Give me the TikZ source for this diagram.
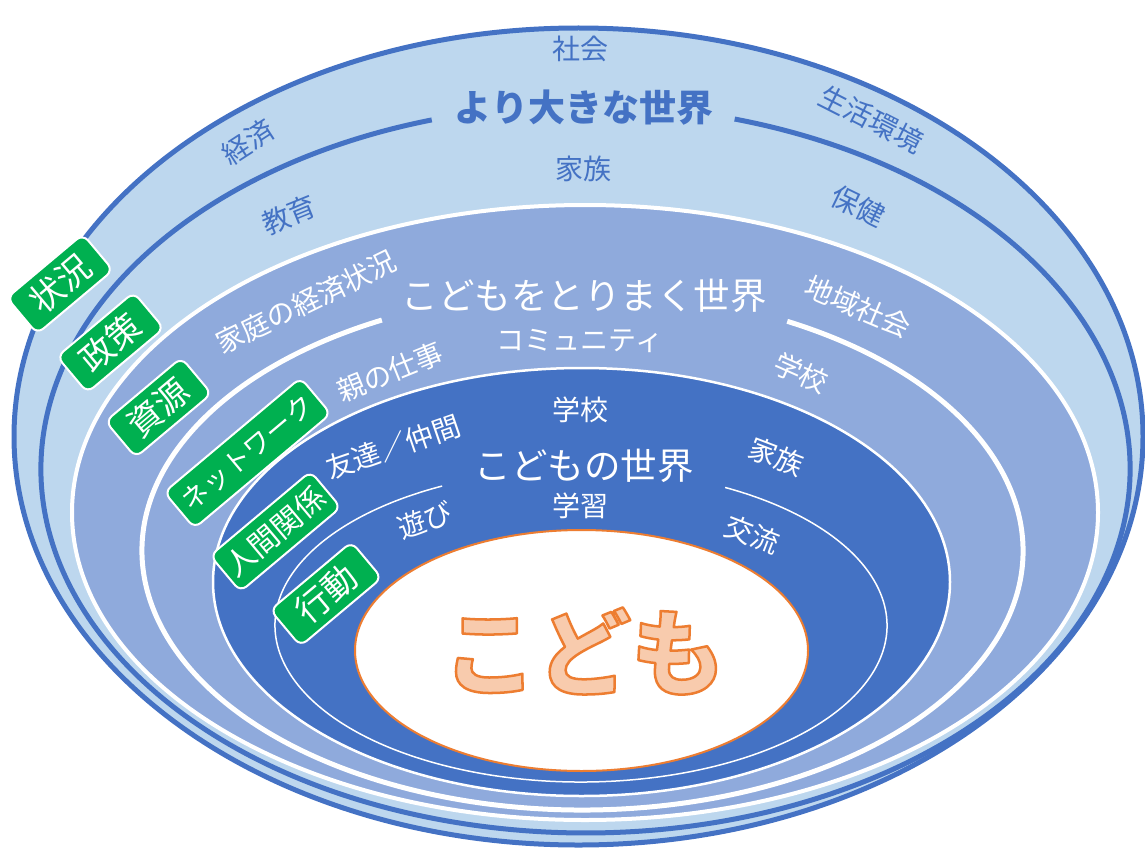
\documentclass[tikz,border=0pt]{standalone}
\usepackage{fontspec}
\setmainfont{Noto Sans CJK JP}
\definecolor{lightb}{HTML}{BDD7EE}
\definecolor{darkb}{HTML}{4472C4}
\definecolor{midb}{HTML}{8FAADC}
\definecolor{tgreen}{HTML}{00B050}
\definecolor{orng}{HTML}{ED7D31}
\definecolor{peach}{HTML}{F8CBAD}
\tikzset{
  blbl/.style={text=darkb, font=\fontsize{28}{32}\selectfont, inner sep=0pt},
  wlbl/.style={text=white, font=\fontsize{28}{32}\selectfont, inner sep=0pt},
  bigw/.style={text=white, font=\fontsize{36.5}{40}\selectfont, inner sep=0pt},
  tagbox/.style={fill=tgreen, draw=white, line width=2pt, rounded corners=8pt,
    text=white, font=\fontsize{34}{36}\selectfont, minimum height=47pt,
    inner sep=0pt, rotate=40}
}
\begin{document}
\begin{tikzpicture}[x=1pt,y=-1pt]
\useasboundingbox (0,0) rectangle (1145,848);
% centres
\coordinate (c1) at (578.5,436.5);
\coordinate (c2) at (585.5,469);
\coordinate (c3) at (585,512.5);
\coordinate (c4) at (582.5,550.8);
\coordinate (c5) at (581.5,582);
\coordinate (c6) at (581,625.5);
\coordinate (c7) at (581.5,650.5);
% outer world
\draw[fill=lightb, draw=darkb, line width=5pt] (c1) ellipse [x radius=564.5, y radius=408.5];
\draw[darkb, line width=5pt] (c2) ++(-74.1:544.5 and 363.9)
  arc[start angle=-74.1, end angle=253.6, x radius=544.5, y radius=363.9];
% surrounding world
\draw[fill=midb, draw=white, line width=4pt] (c3) ellipse [x radius=513, y radius=307.5];
\draw[white, line width=5pt] (c4) ++(-62.3:440.5 and 259.2)
  arc[start angle=-62.3, end angle=242.9, x radius=440.5, y radius=259.2];
% child's world
\draw[fill=darkb, draw=white, line width=2.5pt] (c5) ellipse [x radius=368.5, y radius=214];
\draw[white, line width=1.5pt] (c6) ++(-61.9:306 and 156.5)
  arc[start angle=-61.9, end angle=243.0, x radius=306, y radius=156.5];
% child
\draw[fill=white, draw=orng, line width=2pt] (c7) ellipse [x radius=226.5, y radius=120.5];

% labels: larger world
\node[blbl] (shakai) at (580,49) {社会};
\node[blbl, font=\fontsize{37}{40}\selectfont\bfseries] (ookina) at (584,108) {より大きな世界};
\node[blbl] (kazoku1) at (583,169) {家族};
\node[blbl, rotate=33] (keizai) at (248,142) {経済};
\node[blbl, rotate=-27] (seikatsu) at (871,119) {生活環境};
\node[blbl, rotate=22] (kyoiku) at (289,215) {教育};
\node[blbl, rotate=-26] (hoken) at (858,206) {保健};

% labels: surrounding world
\node[bigw] (torimaku) at (584,296) {こどもをとりまく世界};
\node[wlbl] (community) at (580,341) {コミュニティ};
\node[wlbl, rotate=26] (katei) at (306,302) {家庭の経済状況};
\node[wlbl, rotate=-23] (chiiki) at (858,307) {地域社会};
\node[wlbl, rotate=22] (oya) at (390,372) {親の仕事};
\node[wlbl, rotate=-24] (gakko1) at (801,373) {学校};

% labels: child's world
\node[wlbl] (gakko2) at (580,410) {学校};
\node[bigw] (kodomonosekai) at (584,466) {こどもの世界};
\node[wlbl] (gakushu) at (580,506) {学習};
\node[wlbl, rotate=19] (tomodachi) at (393,447) {友達／仲間};
\node[wlbl, rotate=-21] (kazoku2) at (776,457) {家族};
\node[wlbl, rotate=20] (asobi) at (425,520) {遊び};
\node[wlbl, rotate=-21] (koryu) at (752,535) {交流};

% child
\node[inner sep=0pt, font=\fontsize{94}{96}\selectfont\bfseries] (kodomo) at (584,651)
  {\color{peach}\special{pdf:literal direct 0.929 0.490 0.192 RG 2.5 w 1 j 2 Tr}こども\special{pdf:literal direct 0 Tr}};

% tags
\node[tagbox, minimum width=99pt] (jokyo) at (60,284) {状況};
\node[tagbox, minimum width=100pt] (seisaku) at (110.5,342.5) {政策};
\node[tagbox, minimum width=99pt] (shigen) at (158.5,407.5) {資源};
\node[tagbox, minimum width=178pt, font=\fontsize{27}{30}\selectfont] (network) at (247.5,453) {ネットワーク};
\node[tagbox, minimum width=131pt, font=\fontsize{30}{32}\selectfont] (ningen) at (275.5,531.5) {人間関係};
\node[tagbox, minimum width=106pt] (kodo) at (326,594) {行動};
\end{tikzpicture}
\end{document}
